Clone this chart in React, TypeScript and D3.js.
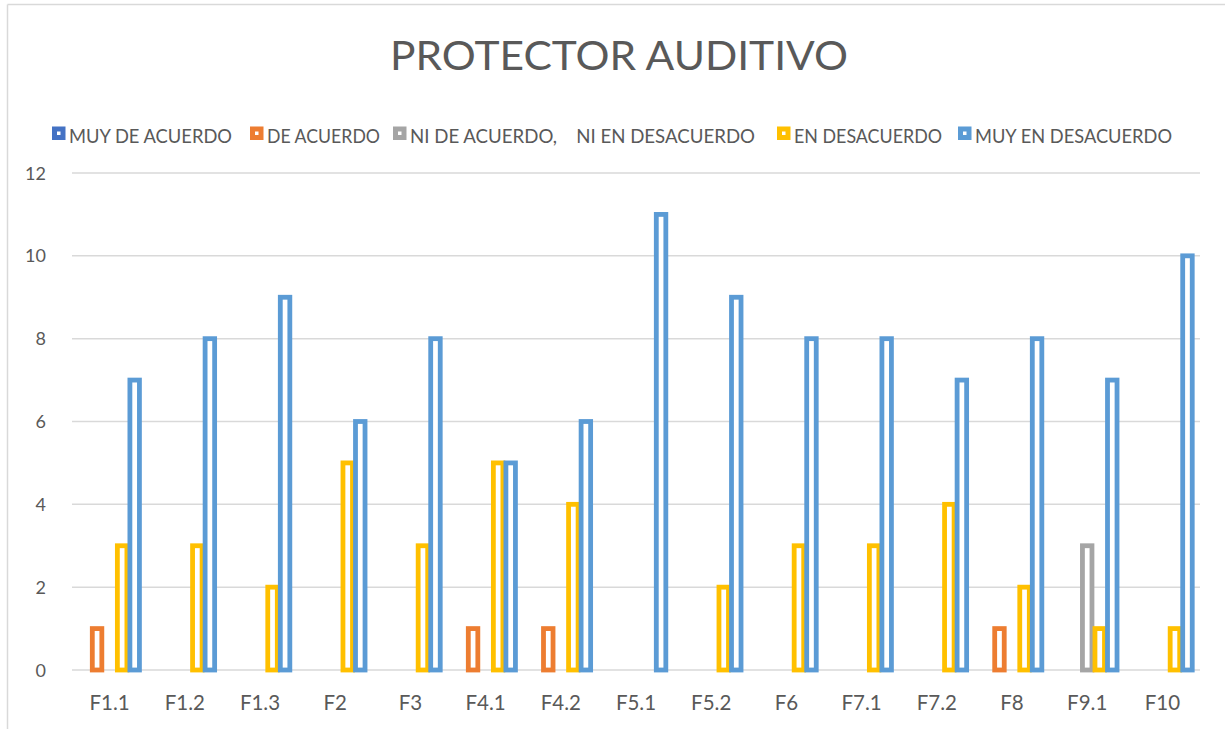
import React from "react";
import * as d3 from "d3";

const categories = ["F1.1","F1.2","F1.3","F2","F3","F4.1","F4.2","F5.1","F5.2","F6","F7.1","F7.2","F8","F9.1","F10"];
const seriesNames = ["MUY DE ACUERDO","DE ACUERDO","NI DE ACUERDO,    NI EN DESACUERDO","EN DESACUERDO","MUY EN DESACUERDO"];
const seriesColors = ["#4472C4","#ED7D31","#A5A5A5","#FFC000","#5B9BD5"];
const muyDeAcuerdo = [0,0,0,0,0,0,0,0,0,0,0,0,0,0,0];
const deAcuerdo =    [1,0,0,0,0,1,1,0,0,0,0,0,1,0,0];
const niNi =         [0,0,0,0,0,0,0,0,0,0,0,0,0,3,0];
const enDesacuerdo = [3,3,2,5,3,5,4,0,2,3,3,4,2,1,1];
const muyEnDesacuerdo = [7,8,9,6,8,5,6,11,9,8,8,7,8,7,10];
const seriesValues = [muyDeAcuerdo, deAcuerdo, niNi, enDesacuerdo, muyEnDesacuerdo];
const yTicks = [0,2,4,6,8,10,12];

const W = 1225, H = 729;
const L = 72, R = 1200, Y0 = 670, YT = 173;
const FONT = "Lato, 'Open Sans', sans-serif";
const TXT = "#595959";

export default function App() {
  const x = d3.scaleBand<string>().domain(categories).range([L, R]).paddingInner(0).paddingOuter(0);
  const y = d3.scaleLinear().domain([0, 12]).range([Y0, YT]);
  const bw = x.bandwidth();
  const groupW = bw / 1.2;
  const inner = d3.scaleBand<number>().domain(d3.range(seriesNames.length)).range([(bw - groupW) / 2, (bw + groupW) / 2]);
  const barW = inner.bandwidth() - 3;
  const sw = 4.8;

  const legendX = [52, 250, 393, 777, 958];
  const legendLen = [163, 113, 345, 148, 197];

  return (
    <svg width={W} height={H} style={{ position: "absolute", left: 0, top: 0, background: "#fff" }} fontFamily={FONT}>
      <rect x={0} y={0} width={W} height={H} fill="#fff" />
      <line x1={7.5} y1={4.5} x2={W} y2={4.5} stroke="#D9D9D9" strokeWidth={1.5} />
      <line x1={7.5} y1={4.5} x2={7.5} y2={H} stroke="#D9D9D9" strokeWidth={1.5} />
      <text x={619} y={70} textAnchor="middle" fontSize={40} fill={TXT} textLength={458} lengthAdjust="spacingAndGlyphs">PROTECTOR AUDITIVO</text>
      {seriesNames.map((n, i) => (
        <g key={n}>
          <rect x={legendX[i] + 2.5} y={129} width={8.5} height={8.5} fill="#fff" stroke={seriesColors[i]} strokeWidth={5} />
          <text x={legendX[i] + 17} y={142.5} fontSize={19} fill={TXT} style={{ whiteSpace: "pre" }} textLength={legendLen[i]} lengthAdjust="spacingAndGlyphs">{n}</text>
        </g>
      ))}
      {yTicks.map(t => (
        <g key={t}>
          <line x1={L} x2={R} y1={y(t)} y2={y(t)} stroke="#D9D9D9" strokeWidth={1.5} />
          <text x={46} y={y(t) + 6.5} textAnchor="end" fontSize={18} fill={TXT}>{t}</text>
        </g>
      ))}
      {categories.map((c, ci) => (
        <g key={c}>
          {seriesValues.map((vals, si) => {
            const v = vals[ci];
            if (!v) return null;
            const cx = (x(c) as number) + (inner(si) as number) + inner.bandwidth() / 2;
            return (
              <rect key={si} x={cx - barW / 2} y={y(v)} width={barW} height={y(0) - y(v)} fill="#fff" stroke={seriesColors[si]} strokeWidth={sw} />
            );
          })}
          <text x={(x(c) as number) + bw / 2} y={710} textAnchor="middle" fontSize={20.5} fill={TXT}>{c}</text>
        </g>
      ))}
    </svg>
  );
}
